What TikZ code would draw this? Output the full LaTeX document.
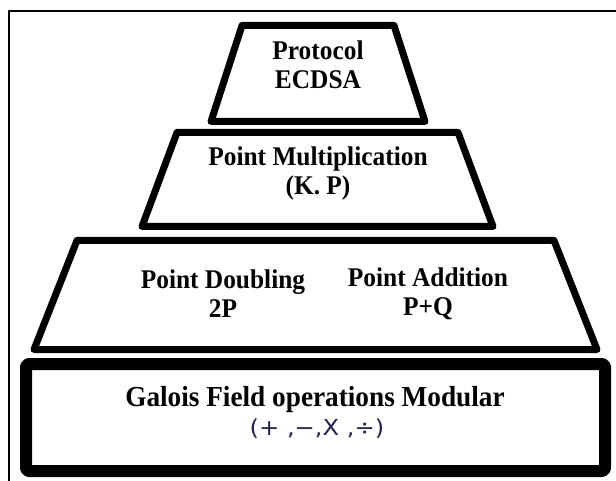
\documentclass[tikz,border=0pt]{standalone}
\usepackage{fontspec}
\setmainfont{Liberation Serif}[FakeStretch=0.94]
\newfontfamily\opsfont{DejaVu Sans}[FakeStretch=1.1]
\definecolor{opsink}{RGB}{35,35,80}

\begin{document}
\begin{tikzpicture}[x=1pt,y=-1pt,line join=round,
    tier/.style={line width=7},
    tiertext/.style={font=\bfseries\fontsize{27}{29}\selectfont,align=center,inner sep=0pt}]
  % Constants
  \pgfmathsetmacro\W{616}
  \pgfmathsetmacro\H{481}
  \pgfmathsetmacro\cx{318}
  % Boundary
  \path[use as bounding box] (0,0) rectangle (\W,\H);
  \draw[line width=2] (9,\H) -- (9,11) -- (\W,11);
  % Pyramid tiers
  \draw[tier] (242,25.5) -- (394,25.5) -- (425,121.5) -- (211,121.5) -- cycle;
  \draw[tier] (177,132.5) -- (458,132.5) -- (493,226.5) -- (142,226.5) -- cycle;
  \draw[tier] (77,240.5) -- (554,240.5) -- (597,349.5) -- (34,349.5) -- cycle;
  % Base
  \draw[line width=12,rounded corners=3] (26,364) rectangle (605,471);
  % Texts
  \node[tiertext] (protocol) at (\cx,65) {Protocol\\ECDSA};
  \node[tiertext] (mult) at (\cx,174) {Point Multiplication\\(K. P)};
  \node[tiertext] (doubling) at (223,294) {Point Doubling\\2P};
  \node[tiertext] (addition) at (428,294) {Point Addition\\P+Q};
  \node[tiertext,font=\bfseries\fontsize{29}{29}\selectfont] (galois) at (315,400) {Galois Field operations Modular};
  \node[inner sep=0pt,text=opsink,font=\opsfont\fontsize{22}{24}\selectfont] (ops) at (317,429) {(+ ,−,X ,÷)};
\end{tikzpicture}
\end{document}
